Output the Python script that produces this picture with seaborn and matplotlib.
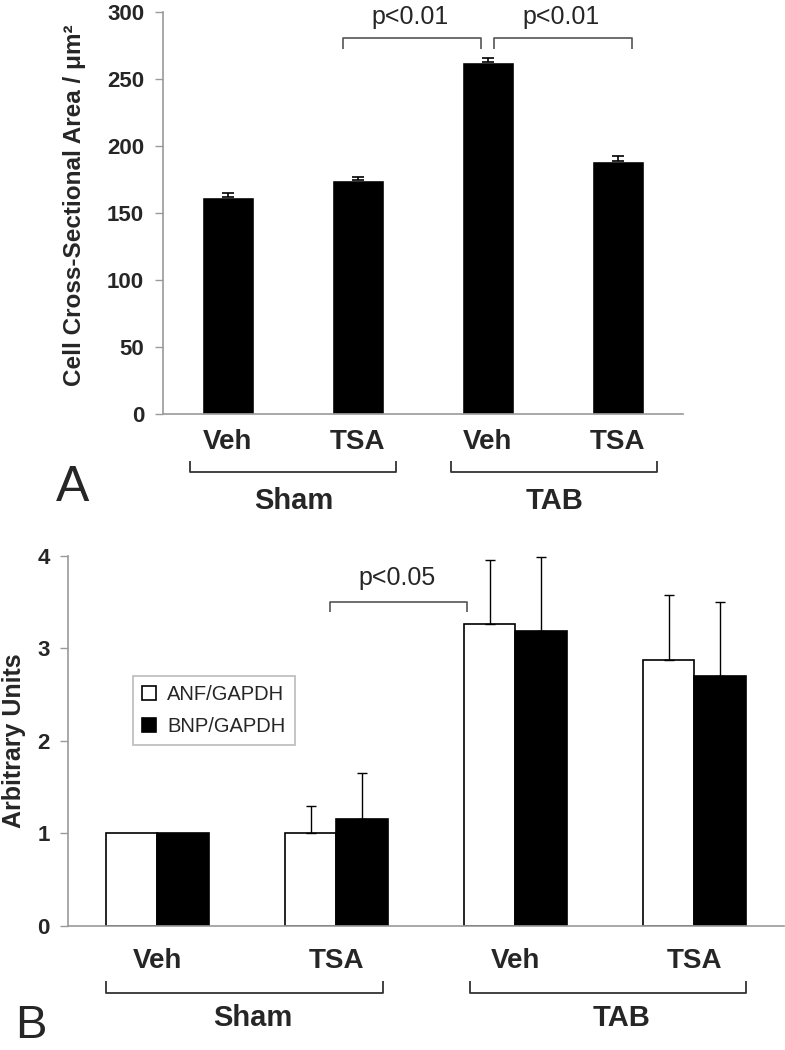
import numpy as np
import pandas as pd
import matplotlib.pyplot as plt
import seaborn as sns

# Panel A: cell cross-sectional area.
conditions = ["Sham Veh", "Sham TSA", "TAB Veh", "TAB TSA"]
treatments = ["Veh", "TSA", "Veh", "TSA"]
area_mean = [162, 174.5, 262.5, 189]
area_err = [3.2, 2.5, 3.0, 3.2]

# Panel B: natriuretic peptide expression.
markers = ["ANF/GAPDH", "BNP/GAPDH"]
anf_mean = [1.0, 1.0, 3.26, 2.88]
anf_err = [0.0, 0.30, 0.70, 0.70]
bnp_mean = [1.0, 1.16, 3.19, 2.70]
bnp_err = [0.0, 0.49, 0.80, 0.80]

sns.set_style("white")
plt.rcParams["font.family"] = ["Liberation Sans", "DejaVu Sans"]

GREY = "#9a9a9a"
DARK = "#333333"

fig = plt.figure(figsize=(7.85, 10.5), dpi=100)
ax_a = fig.add_axes([0.2076, 0.6057, 0.6624, 0.3829])
ax_b = fig.add_axes([0.0866, 0.1181, 0.9121, 0.3524])


def style_axis(ax, pad_x, pad_y):
    # Grey left/bottom spines, ticks between categories.
    for side in ("top", "right"):
        ax.spines[side].set_visible(False)
    for side in ("left", "bottom"):
        ax.spines[side].set_color(GREY)
        ax.spines[side].set_linewidth(1.2)
    ax.set_xlim(-0.5, 3.5)
    ax.set_xticks(range(4))
    ax.set_xticklabels(treatments)
    ax.set_xticks([0.5, 1.5, 2.5, 3.5], minor=True)
    ax.tick_params(axis="x", which="major", length=0, labelsize=20,
                   pad=pad_x)
    ax.tick_params(axis="x", which="minor", length=6, width=1, color=GREY,
                   direction="out")
    ax.tick_params(axis="y", length=6, width=1, color=GREY, direction="out",
                   labelsize=16, pad=pad_y, left=True)
    for lab in ax.get_xticklabels() + ax.get_yticklabels():
        lab.set_fontweight("bold")
    ax.set_xlabel("")


def bracket(ax, x0, x1, y_end, y_line, trans=None, lw=1.3, color=DARK):
    if trans is None:
        trans = ax.transData
    ax.plot([x0, x0, x1, x1], [y_end, y_line, y_line, y_end], color=color,
            lw=lw, transform=trans, clip_on=False, solid_capstyle="butt")


# ---- Panel A ----
area = pd.DataFrame({"condition": conditions, "area": area_mean})
sns.barplot(data=area, x="condition", y="area", color="black", width=0.4,
            saturation=1, errorbar=None, ax=ax_a)
pos = np.arange(len(conditions))
ax_a.errorbar(pos, area_mean, yerr=[np.zeros(4), area_err], fmt="none",
              ecolor="black", elinewidth=1.2, capsize=4, capthick=1.2)
ax_a.set_ylim(0, 300)
ax_a.set_yticks(range(0, 301, 50))
style_axis(ax_a, pad_x=11, pad_y=7.5)
ax_a.set_ylabel("Cell Cross-Sectional Area / μm²", fontsize=17.5,
                fontweight="bold")
ax_a.yaxis.set_label_coords(-0.148, 0.52)

# significance brackets
bracket(ax_a, 0.885, 1.946, 272.5, 280.5, color="#555555", lw=1.2)
bracket(ax_a, 2.046, 3.108, 272.5, 280.5, color="#555555", lw=1.2)
ax_a.text(1.40, 296, "p<0.01", ha="center", va="center", fontsize=18,
          clip_on=False)
ax_a.text(2.56, 296, "p<0.01", ha="center", va="center", fontsize=18,
          clip_on=False)

# group brackets
tr_a = ax_a.get_xaxis_transform()
bracket(ax_a, -0.292, 1.292, -0.117, -0.144, trans=tr_a)
bracket(ax_a, 1.715, 3.300, -0.117, -0.144, trans=tr_a)
ax_a.text(0.504, -0.216, "Sham", transform=tr_a, ha="center", va="center",
          fontsize=21, fontweight="bold")
ax_a.text(2.51, -0.216, "TAB", transform=tr_a, ha="center", va="center",
          fontsize=21, fontweight="bold")

# ---- Panel B ----
peptides = pd.DataFrame({
    "condition": conditions * 2,
    "marker": [markers[0]] * 4 + [markers[1]] * 4,
    "value": anf_mean + bnp_mean,
})
sns.barplot(data=peptides, x="condition", y="value", hue="marker",
            palette={markers[0]: "white", markers[1]: "black"},
            edgecolor="black", linewidth=1.2, width=0.575, gap=0,
            saturation=1, errorbar=None, ax=ax_b)
half = 0.575 / 4
for means, errs, shift in ((anf_mean, anf_err, -half),
                           (bnp_mean, bnp_err, half)):
    keep = [i for i, e in enumerate(errs) if e > 0]
    ax_b.errorbar(pos[keep] + shift, [means[i] for i in keep],
                  yerr=[np.zeros(len(keep)), [errs[i] for i in keep]],
                  fmt="none", ecolor="black", elinewidth=1, capsize=3.5,
                  capthick=1)
ax_b.set_ylim(0, 4)
ax_b.set_yticks(range(0, 5))
style_axis(ax_b, pad_x=16, pad_y=7)
ax_b.set_ylabel("Arbitrary Units", fontsize=18, fontweight="bold")
ax_b.yaxis.set_label_coords(-0.0587, 0.5)

leg = ax_b.legend(loc="upper left", bbox_to_anchor=(0.091, 0.676),
                  borderaxespad=0, fontsize=14.5, frameon=True,
                  fancybox=False, framealpha=1, edgecolor="#bbbbbb",
                  handlelength=0.7, handleheight=0.7, handletextpad=0.55,
                  labelspacing=0.65, borderpad=0.45, title=None)
leg.get_frame().set_linewidth(1.2)

bracket(ax_b, 0.964, 1.729, 3.39, 3.50, color="#555555", lw=1.2)
ax_b.text(1.338, 3.76, "p<0.05", ha="center", va="center", fontsize=18)

tr_b = ax_b.get_xaxis_transform()
bracket(ax_b, -0.288, 1.260, -0.149, -0.181, trans=tr_b)
bracket(ax_b, 1.746, 3.288, -0.149, -0.181, trans=tr_b)
ax_b.text(0.533, -0.249, "Sham", transform=tr_b, ha="center", va="center",
          fontsize=21, fontweight="bold")
ax_b.text(2.595, -0.249, "TAB", transform=tr_b, ha="center", va="center",
          fontsize=21, fontweight="bold")

# panel letters
fig.text(56 / 785, 1 - 501 / 1050, "A", fontsize=36, ha="left",
         va="baseline")
fig.text(15 / 785, 2 / 1050, "B", fontsize=34, ha="left", va="bottom")

fig.savefig("out.png", dpi=100)
